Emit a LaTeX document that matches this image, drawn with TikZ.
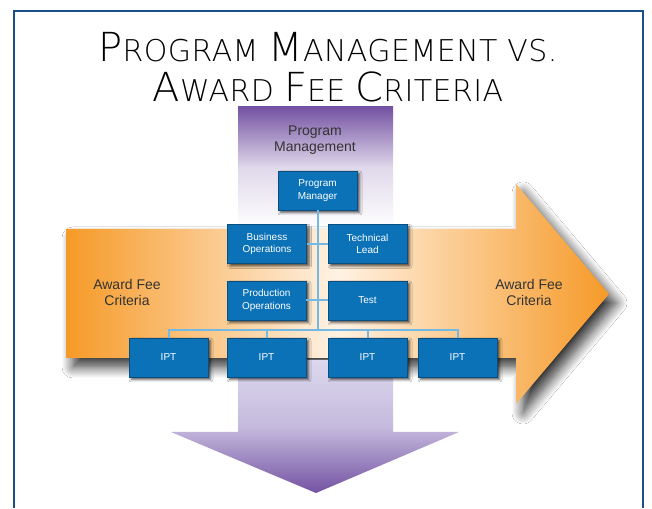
\documentclass[tikz,border=0pt]{standalone}
\usepackage{fontspec}
\setmainfont{Liberation Sans}
\newfontfamily\titlefont[LetterSpace=1.5]{DejaVu Sans ExtraLight}
\usetikzlibrary{shadows.blur}

\definecolor{frameblue}{HTML}{1B4F8A}
\definecolor{boxblue}{HTML}{0B72B7}
\definecolor{boxedge}{HTML}{0A4E80}
\definecolor{linkblue}{HTML}{74B9E3}
\definecolor{awardorange}{HTML}{F69A28}
\definecolor{awardpale}{HTML}{FFF2E4}
\definecolor{pmpurple}{HTML}{7452A3}
\definecolor{pmlilac}{HTML}{DCD8EE}
\definecolor{textgrey}{HTML}{333333}

% big first letter, small caps for the rest
\newcommand{\capword}[2]{{\fontsize{40}{40}\selectfont #1}#2}

\begin{document}
\begin{tikzpicture}[x=1pt,y=1pt,
  unitbox/.style={fill=boxblue, draw=boxedge, line width=0.6pt,
    minimum width=79pt, minimum height=39pt, inner sep=0pt,
    align=center, text=white, font=\fontsize{10}{12.5}\selectfont,
    blur shadow={shadow xshift=2.5pt, shadow yshift=-2.5pt,
      shadow blur radius=2.5pt, shadow opacity=70}},
  link/.style={draw=linkblue, line width=2pt},
  bandtext/.style={text=textgrey, align=center,
    font=\fontsize{14}{15.5}\selectfont}]

\def\W{652}
\def\H{508}

\useasboundingbox (0,0) rectangle (\W,\H);
\fill[white] (0,0) rectangle (\W,\H);

% frame
\draw[frameblue, line width=2.2pt] (14,0) -- (14,497) -- (643,497) -- (643,0);

% title
\node[anchor=base, font=\titlefont\fontsize{30}{36}\selectfont] (title1) at (328,446)
  {\capword{P}{ROGRAM} \capword{M}{ANAGEMENT} VS.};
\node[anchor=base, font=\titlefont\fontsize{30}{36}\selectfont] (title2) at (328,406)
  {\capword{A}{WARD} \capword{F}{EE} \capword{C}{RITERIA}};

% program management column
\shade[top color=pmpurple, bottom color=white, middle color=pmpurple!22!white]
  (238,401) rectangle (393,279);

% award fee arrow
\path[left color=awardorange, right color=awardorange, middle color=awardpale,
  blur shadow={shadow xshift=7pt, shadow yshift=-9pt, shadow blur radius=11pt,
    shadow blur steps=12, shadow opacity=80}]
  (66,279) -- (516,279) -- (516,324) -- (609,214) -- (516,104) -- (516,150)
  -- (66,150) -- cycle;

% program management arrow, downwards
\shade[top color=pmlilac, bottom color=pmpurple, middle color=pmlilac!78!pmpurple]
  (238,148) -- (393,148) -- (393,76) -- (459,76) -- (316,15) -- (171,76)
  -- (238,76) -- cycle;

\node[bandtext] (pmtext) at (315,368) {Program\\Management};
\node[bandtext] (afleft) at (127,215.5) {Award Fee\\Criteria};
\node[bandtext] (afright) at (529,215.5) {Award Fee\\Criteria};

% units
\foreach \name/\x/\y/\txt in {
  pm/317.5/317.5/{Program\\Manager},
  bo/267/264/{Business\\Operations},
  tl/367.5/264/{Technical\\Lead},
  po/266.5/207.5/{Production\\Operations},
  ts/367.5/207.5/{Test},
  ipt1/168.5/150.5/{IPT},
  ipt2/266.5/150.5/{IPT},
  ipt3/367.5/150.5/{IPT},
  ipt4/457.5/150.5/{IPT}}{
    \node[unitbox] (\name) at (\x,\y) {\txt};
}

% connectors
\coordinate (bus) at (318,178);
\draw[link] (pm.south) -- (pm.south |- bus);
\draw[link] (bo.east) -- (tl.west);
\draw[link] (po.east) -- (ts.west);
\draw[link] (ipt1.north) |- (bus) -| (ipt4.north);
\foreach \n in {ipt2,ipt3}
  \draw[link] (\n.north) -- (\n.north |- bus);
\end{tikzpicture}
\end{document}
